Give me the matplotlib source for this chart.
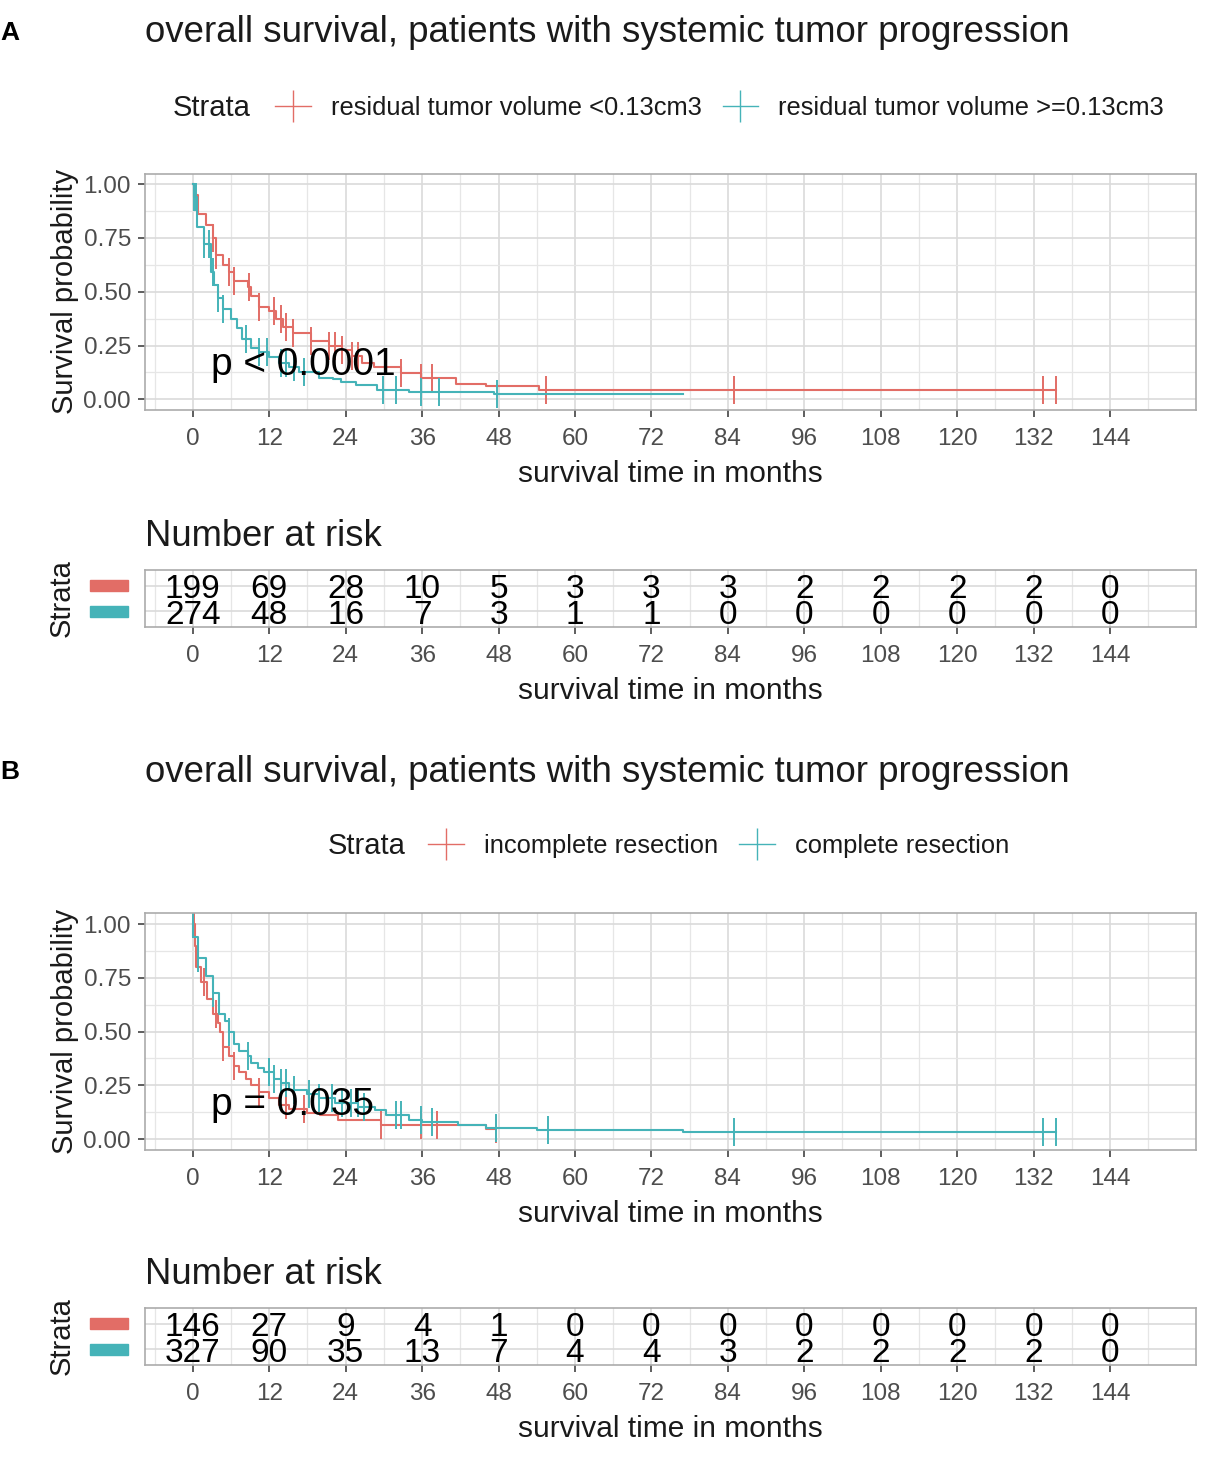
import numpy as np
import matplotlib
matplotlib.use("Agg")
import matplotlib.pyplot as plt
from matplotlib.lines import Line2D
from matplotlib.patches import Rectangle
import matplotlib.transforms as mtransforms

plt.rcParams['font.family'] = ['Liberation Sans', 'DejaVu Sans']

# ---------------- data ----------------
title = "overall survival, patients with systemic tumor progression"
risk_times = [0, 12, 24, 36, 48, 60, 72, 84, 96, 108, 120, 132, 144]

# Panel A
A_labels = ["residual tumor volume <0.13cm3", "residual tumor volume >=0.13cm3"]
A_red_time = [0, 0.3, 0.8, 2.0, 3.1, 3.7, 4.7, 5.7, 6.5, 8.6, 9.1, 10.4, 12.0, 13.0, 14.1,
              15.7, 18.5, 21.4, 23.5, 25.0, 26.5, 28.4, 32.7, 35.8, 41.3, 46.0, 54.3]
A_red_surv = [1.0, 0.95, 0.86, 0.81, 0.75, 0.67, 0.625, 0.59, 0.55, 0.52, 0.48, 0.43, 0.41, 0.375, 0.336,
              0.31, 0.27, 0.25, 0.23, 0.20, 0.17, 0.15, 0.12, 0.10, 0.073, 0.06, 0.042]
A_red_end = 135.5
A_red_cens = [3.1, 3.7, 5.7, 6.5, 8.9, 10.4, 12.8, 13.8, 14.6, 15.7, 18.5, 21.4, 22.4, 23.5,
              25.0, 26.0, 32.7, 35.8, 37.6, 55.5, 85.0, 133.5, 135.5]
A_teal_time = [0, 0.26, 0.6, 1.8, 2.8, 2.9, 3.4, 3.9, 4.7, 6.0, 7.0, 7.8, 9.1, 10.4, 12.0,
               13.6, 15.1, 16.7, 19.8, 22.0, 23.3, 25.6, 29.0, 34.0, 47.3]
A_teal_surv = [1.0, 0.94, 0.80, 0.72, 0.67, 0.59, 0.53, 0.47, 0.42, 0.375, 0.33, 0.28, 0.24, 0.22, 0.195,
               0.17, 0.15, 0.125, 0.10, 0.093, 0.082, 0.065, 0.042, 0.034, 0.023]
A_teal_end = 77.0
A_teal_cens = [0.26, 0.5, 1.8, 2.6, 3.1, 3.9, 4.7, 8.3, 10.4, 11.7, 13.8, 14.6, 15.9, 17.5,
               29.8, 31.9, 35.8, 38.6, 47.8]
A_pval = "p < 0.0001"
A_risk_red = [199, 69, 28, 10, 5, 3, 3, 3, 2, 2, 2, 2, 0]
A_risk_teal = [274, 48, 16, 7, 3, 1, 1, 0, 0, 0, 0, 0, 0]

# Panel B
B_labels = ["incomplete resection", "complete resection"]
B_red_time = [0, 0.3, 0.5, 1.3, 2.3, 3.1, 3.9, 4.2, 4.7, 5.7, 6.5, 7.3, 8.3, 9.1, 10.4,
              12.0, 13.6, 15.1, 18.0, 20.0, 22.8, 29.5, 46.0]
B_red_surv = [1.0, 0.90, 0.80, 0.73, 0.65, 0.58, 0.54, 0.50, 0.43, 0.385, 0.34, 0.31, 0.28, 0.25, 0.22,
              0.19, 0.16, 0.14, 0.12, 0.11, 0.088, 0.065, 0.045]
B_red_end = 47.6
B_red_cens = [0.0, 0.26, 1.8, 3.7, 4.7, 6.5, 10.4, 14.6, 17.5, 29.5, 35.8, 38.4, 47.6]
B_teal_time = [0, 0.1, 0.8, 2.1, 3.1, 4.1, 5.0, 5.7, 6.5, 7.3, 8.6, 9.1, 10.2, 11.2, 12.8,
               13.8, 15.1, 18.0, 19.8, 22.4, 26.0, 28.6, 30.3, 34.0, 36.0, 41.6, 46.0, 54.0, 77.0]
B_teal_surv = [1.0, 0.94, 0.84, 0.76, 0.68, 0.58, 0.55, 0.50, 0.44, 0.41, 0.385, 0.355, 0.33, 0.31, 0.28,
               0.26, 0.23, 0.21, 0.19, 0.17, 0.15, 0.135, 0.11, 0.088, 0.08, 0.065, 0.05, 0.042, 0.033]
B_teal_end = 135.5
B_teal_cens = [0.0, 0.8, 3.1, 5.7, 8.6, 12.0, 12.8, 13.8, 14.6, 15.9, 18.3, 19.8, 21.9, 23.5,
               24.8, 25.9, 26.9, 31.9, 32.7, 35.8, 37.6, 47.6, 55.7, 85.0, 133.5, 135.5]
B_pval = "p = 0.035"
B_risk_red = [146, 27, 9, 4, 1, 0, 0, 0, 0, 0, 0, 0, 0]
B_risk_teal = [327, 90, 35, 13, 7, 4, 4, 3, 2, 2, 2, 2, 0]

# ---------------- style ----------------
RED = '#E26D66'
TEAL = '#45B3B8'
GRID_MAJ = '#DADADA'
GRID_MIN = '#E6E6E6'
BORDER = '#ABABAB'
TICKC = '#4D4D4D'
W, H = 1210, 1457
XLIM = (-7.5, 157.5)

fig = plt.figure(figsize=(W / 100, H / 100), dpi=100)


def add_ax(l, t, r, b):
    return fig.add_axes([l / W, 1 - b / H, (r - l) / W, (b - t) / H])


def style_axes(ax):
    for sp in ax.spines.values():
        sp.set_color(BORDER)
        sp.set_linewidth(1.2)
    ax.set_axisbelow(True)
    ax.tick_params(axis='both', which='major', length=5, width=1.1, color='#333333',
                   labelcolor=TICKC, labelsize=17.5, pad=5)
    ax.tick_params(axis='x', which='major', pad=8)
    ax.tick_params(axis='both', which='minor', length=0)
    ax.grid(True, which='major', color=GRID_MAJ, lw=1.2)
    ax.grid(True, which='minor', color=GRID_MIN, lw=0.9)
    ax.set_xlim(*XLIM)
    ax.set_xticks(risk_times)
    ax.set_xticks(np.arange(-6, 157, 12), minor=True)
    ax.set_xlabel("survival time in months", fontsize=21.5, color='#1A1A1A', labelpad=7)


def surv_at(times, surv, c):
    idx = np.searchsorted(times, c, side='right') - 1
    return np.array(surv)[np.clip(idx, 0, len(surv) - 1)]


def km_panel(top, labels, red, teal, pval, letter, legend_info):
    ax = add_ax(145, top, 1196, top + 236.5)
    style_axes(ax)
    for (times, surv, end, cens), col in zip([red, teal], [RED, TEAL]):
        xs = list(times) + [end]
        ys = list(surv) + [surv[-1]]
        ax.step(xs, ys, where='post', color=col, lw=1.5)
        ax.plot(cens, surv_at(times, surv, cens), ls='none', marker='|', ms=20,
                mew=1.4, color=col)
    ax.set_ylim(-0.05, 1.05)
    ax.set_yticks([0, 0.25, 0.5, 0.75, 1.0])
    ax.set_yticks([0.125, 0.375, 0.625, 0.875], minor=True)
    ax.set_yticklabels(["0.00", "0.25", "0.50", "0.75", "1.00"])
    ax.set_ylabel("Survival probability", fontsize=21, color='#1A1A1A', labelpad=3)
    ax.text(2.8, 0.16, pval, fontsize=28, color='black', va='center', ha='left')
    # title & letter
    fig.text(145 / W, 1 - (top - 141) / H, title, fontsize=26.4, color='#1A1A1A',
             ha='left', va='center')
    fig.text(0 / W, 1 - (top - 141) / H, letter, fontsize=19, fontweight='bold',
             ha='left', va='center')
    # legend
    strata_x, handle_x, ly = legend_info
    fig.text(strata_x / W, 1 - (ly + 1) / H, "Strata", fontsize=21, color='#1A1A1A',
             ha='left', va='center')
    handles = [Line2D([], [], color=c, lw=1.0, marker='|', ms=23, mew=1.0)
               for c in [RED, TEAL]]
    fig.legend(handles, labels, loc='center left', bbox_to_anchor=(handle_x / W, 1 - (ly + 1) / H),
               ncol=2, frameon=False, fontsize=18.4, handlelength=1.4, handletextpad=0.78,
               columnspacing=0.82, borderpad=0, borderaxespad=0, numpoints=1,
               labelcolor='#1A1A1A')
    return ax


def risk_panel(top, rred, rteal):
    ax = add_ax(145, top, 1196, top + 57)
    style_axes(ax)
    ax.set_ylim(0.4, 2.6)
    ax.set_yticks([1, 2])
    ax.set_yticklabels(["", ""])
    ax.tick_params(axis='y', which='major', length=0)
    shift = mtransforms.offset_copy(ax.transData, fig=fig, x=0, y=-4, units='dots')
    for i, t in enumerate(risk_times):
        ax.text(t, 2, str(rred[i]), fontsize=24, ha='center', va='center', color='black',
                transform=shift)
        ax.text(t, 1, str(rteal[i]), fontsize=24, ha='center', va='center', color='black',
                transform=shift)
    trans = mtransforms.blended_transform_factory(ax.transAxes, ax.transData)
    for yv, col in [(2, RED), (1, TEAL)]:
        ax.add_patch(Rectangle((-55 / 1051, yv - 0.22), 38 / 1051, 0.44, transform=trans,
                               color=col, clip_on=False))
    ax.set_ylabel("Strata", fontsize=21, color='#1A1A1A', labelpad=45)
    fig.text(145 / W, 1 - (top - 34) / H, "Number at risk", fontsize=26.2, color='#1A1A1A',
             ha='left', va='center')
    return ax


km_panel(173.5, A_labels, (A_red_time, A_red_surv, A_red_end, A_red_cens),
         (A_teal_time, A_teal_surv, A_teal_end, A_teal_cens), A_pval, "A", (173, 275, 107))
risk_panel(570, A_risk_red, A_risk_teal)
km_panel(913.3, B_labels, (B_red_time, B_red_surv, B_red_end, B_red_cens),
         (B_teal_time, B_teal_surv, B_teal_end, B_teal_cens), B_pval, "B", (328, 428, 845))
risk_panel(1308, B_risk_red, B_risk_teal)

fig.savefig("out.png", dpi=100)
